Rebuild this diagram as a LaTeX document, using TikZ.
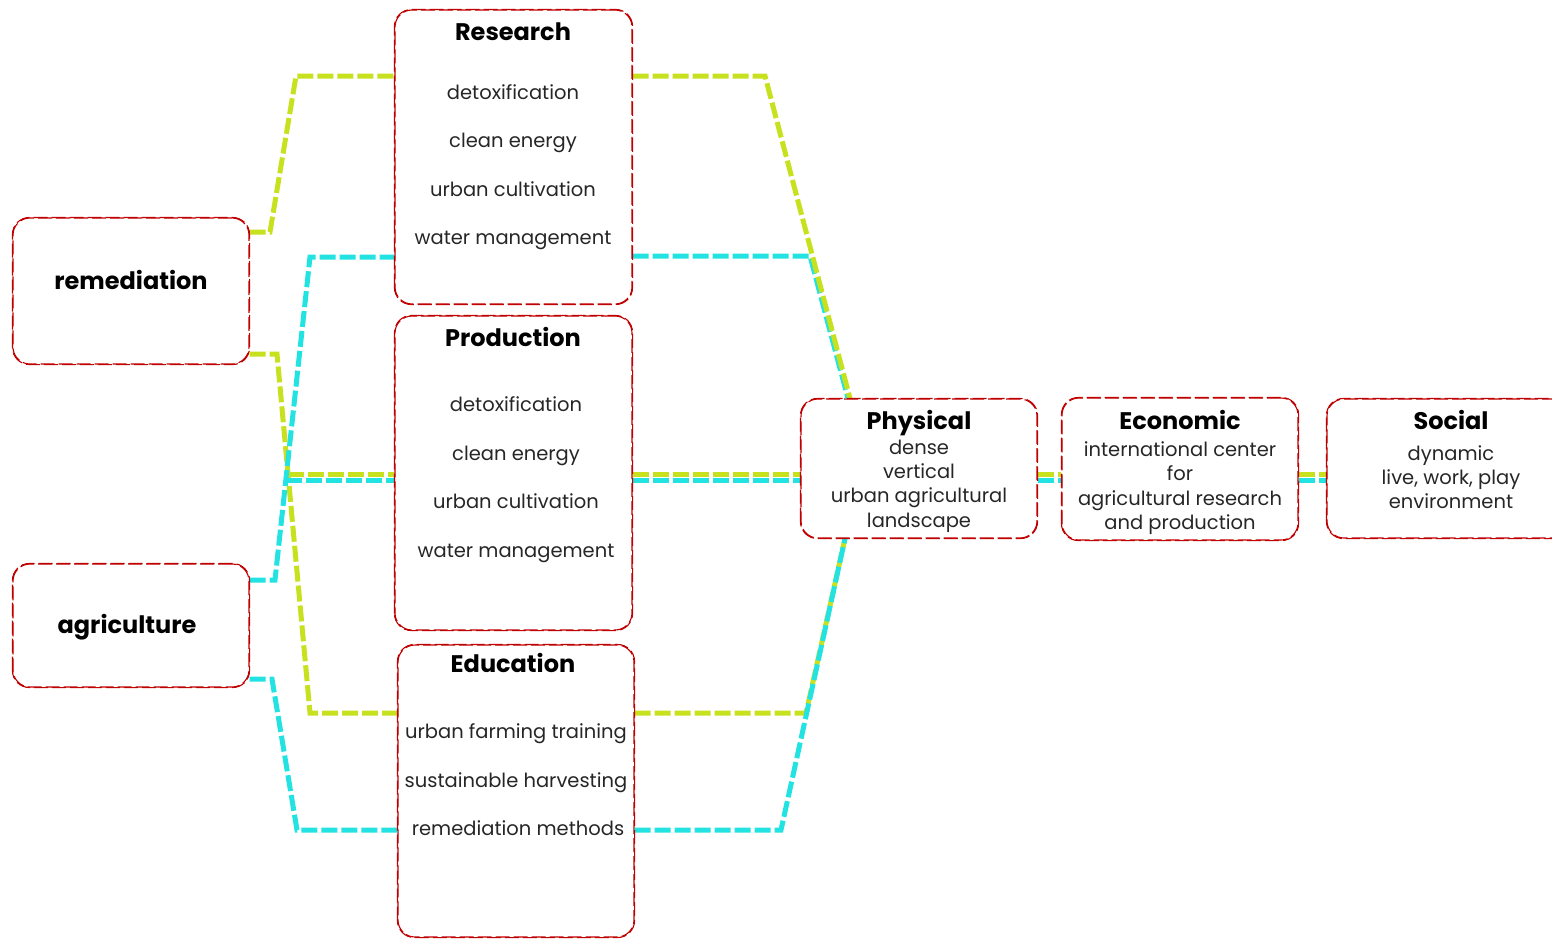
\documentclass[tikz,border=0pt]{standalone}
\usepackage{fontspec}
\setmainfont{Poppins}
\usetikzlibrary{calc}
\definecolor{boxred}{HTML}{C00000}
\definecolor{lgreen}{HTML}{C8E11E}
\definecolor{lcyan}{HTML}{22E2E2}
\tikzset{
 box/.style={draw=boxred, line width=1.1pt, dash pattern=on 14pt off 4pt, rounded corners=17pt, inner sep=0pt},
 gline/.style={draw=lgreen, line width=5pt, dash pattern=on 16pt off 4pt},
 cline/.style={draw=lcyan, line width=5pt, dash pattern=on 16pt off 4pt},
 ttl/.style={font=\fontsize{24}{28}\selectfont\bfseries, inner sep=0pt, text height=21pt, text depth=5pt},
 itm/.style={font=\fontsize{19.5}{24}\selectfont, text=black!85, inner sep=0pt, text height=18pt, text depth=4pt},
 body/.style={font=\fontsize{19.5}{24.3}\selectfont, text=black!85, inner sep=0pt, align=center},
}
\begin{document}
\begin{tikzpicture}[x=1pt,y=-1pt]
\useasboundingbox (0,0) rectangle (1552,940);
% boxes
\node[box, minimum width=237pt, minimum height=294pt] (res) at (513.5,157) {};
\node[box, minimum width=237pt, minimum height=314pt] (prod) at (513.5,473) {};
\node[box, minimum width=236pt, minimum height=292pt] (edu) at (516,791) {};
\node[box, minimum width=236pt, minimum height=146pt] (rem) at (131,291) {};
\node[box, minimum width=236pt, minimum height=123pt] (agr) at (131,625.5) {};
\node[box, minimum width=236pt, minimum height=139pt] (phy) at (919,468.5) {};
\node[box, minimum width=236pt, minimum height=142pt] (eco) at (1180,469) {};
\node[box, minimum width=246pt, minimum height=139pt] (soc) at (1450,468.5) {};
% bend coordinates
\coordinate (g1a) at (270,232);
\coordinate (g1b) at (296,76);
\coordinate (g2a) at (277,354);
\coordinate (g2b) at (310,713);
\coordinate (g2x) at (288,474);
\coordinate (c1a) at (275,580);
\coordinate (c1b) at (310,257);
\coordinate (c1x) at (286,480);
\coordinate (c2a) at (272,679);
\coordinate (c2b) at (297,830);
\coordinate (g3a) at (765,76);
\coordinate (g3b) at (850,398);
\coordinate (c3a) at (810,256);
\coordinate (c3b) at (848,398);
\coordinate (g4) at (806,713);
\coordinate (c4) at (781,830);
\coordinate (c4b) at (845,538);
% left connectors
\draw[gline] (rem.east |- g1a) -- (g1a) -- (g1b) -- (res.west |- g1b);
\draw[gline] (rem.east |- g2a) -- (g2a) -- (g2b) -- (edu.west |- g2b);
\draw[gline] (g2x) -- (prod.west |- g2x);
\draw[cline] (agr.east |- c1a) -- (c1a) -- (c1b) -- (res.west |- c1b);
\draw[cline] (c1x) -- (prod.west |- c1x);
\draw[cline] (agr.east |- c2a) -- (c2a) -- (c2b) -- (edu.west |- c2b);
% right connectors
\draw[cline] (res.east |- c3a) -- (c3a) -- (c3b |- phy.north);
\draw[gline] (res.east |- g3a) -- (g3a) -- (g3b |- phy.north);
\draw[gline] (prod.east |- g2x) -- (phy.west |- g2x);
\draw[cline] (prod.east |- c1x) -- (phy.west |- c1x);
\draw[gline] (edu.east |- g2b) -- (g4) -- (c4b |- phy.south);
\draw[cline] (edu.east |- c2b) -- (c4) -- (c4b |- phy.south);
\draw[gline] (phy.east |- g2x) -- (eco.west |- g2x);
\draw[cline] (phy.east |- c1x) -- (eco.west |- c1x);
\draw[gline] (eco.east |- g2x) -- (soc.west |- g2x);
\draw[cline] (eco.east |- c1x) -- (soc.west |- c1x);
% box outlines on top
\foreach \n in {res,prod,edu,rem,agr,phy,eco,soc}{
  \draw[box] (\n.south west) rectangle (\n.north east);
}
% texts
\node[ttl] (resT) at (513,32) {Research};
\node[itm] (r1) at (513,92) {detoxification};
\node[itm] (r2) at (513,140) {clean energy};
\node[itm] (r3) at (513,189) {urban cultivation};
\node[itm] (r4) at (513,237) {water management};
\node[ttl] (prodT) at (513,338) {Production};
\node[itm] (p1) at (516,404) {detoxification};
\node[itm] (p2) at (516,453) {clean energy};
\node[itm] (p3) at (516,501) {urban cultivation};
\node[itm] (p4) at (516,550) {water management};
\node[ttl] (eduT) at (513,664) {Education};
\node[itm] (e1) at (516,731) {urban farming training};
\node[itm] (e2) at (516,780) {sustainable harvesting};
\node[itm] (e3) at (518,828) {remediation methods};
\node[ttl] (remT) at (131,281) {remediation};
\node[ttl] (agrT) at (127,625) {agriculture};
\node[ttl] (phyT) at (919,421) {Physical};
\node[body] (phyB) at (919,486) {dense\\vertical\\urban agricultural\\landscape};
\node[ttl] (ecoT) at (1180,421) {Economic};
\node[body] (ecoB) at (1180,488) {international center\\for\\agricultural research\\and production};
\node[ttl] (socT) at (1451,421) {Social};
\node[body] (socB) at (1451,477) {dynamic\\live, work, play\\environment};
\end{tikzpicture}
\end{document}
